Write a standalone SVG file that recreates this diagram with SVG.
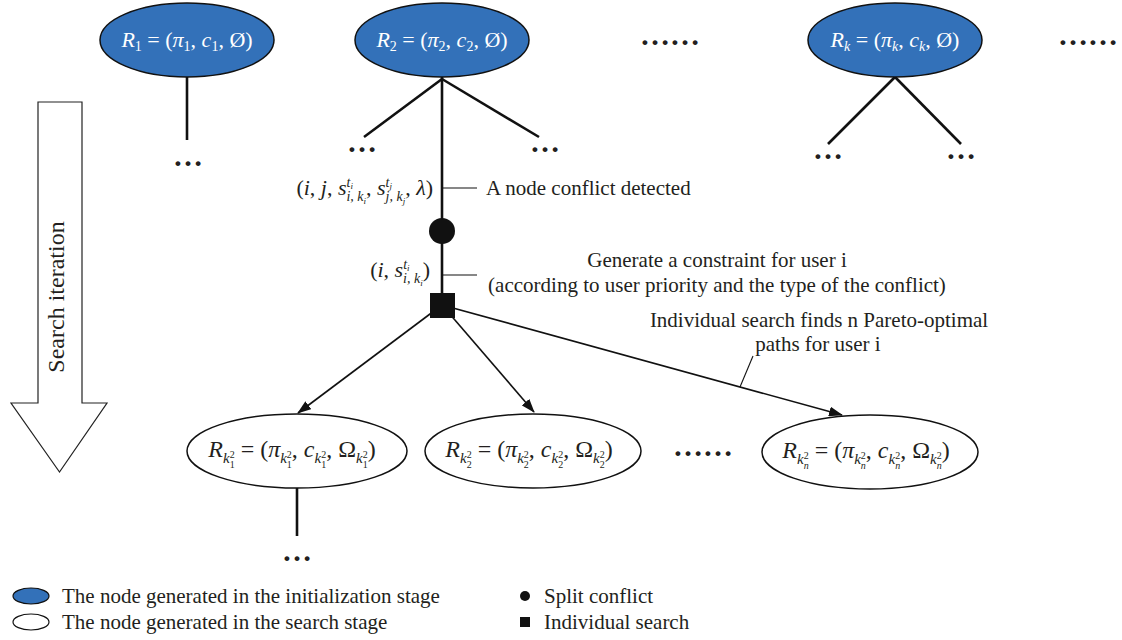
<svg xmlns="http://www.w3.org/2000/svg" width="1122" height="640" viewBox="0 0 1122 640">
  <style>
    text { font-family: "Liberation Serif", "Times New Roman", serif; fill: #231f20; }
    .lbl { font-size: 21px; }
    .math { font-size: 22px; }
    .it { font-style: italic; }
    .init { fill: #3371b9; stroke: #111; stroke-width: 1.5; }
    .srch { fill: #fff; stroke: #111; stroke-width: 1.5; }
    .init-t { font-size: 22px; fill: #fff; }
    .srch-t { font-size: 24px; }
    .trunk { stroke: #111; stroke-width: 2.6; fill: none; }
    .edge { stroke: #111; stroke-width: 1.6; fill: none; }
    .tick { stroke: #111; stroke-width: 1.1; fill: none; }
    .dots { font-size: 30px; font-weight: bold; }
    .more { font-size: 30px; font-weight: bold; }
  </style>
  <defs>
    <marker id="arrow" markerUnits="userSpaceOnUse" markerWidth="14" markerHeight="10" refX="13" refY="5" orient="auto">
      <path d="M0,0 L14,5 L0,10 Z" fill="#111"/>
    </marker>
  </defs>

  <rect width="1122" height="640" fill="#fff"/>

  <!-- search iteration arrow -->
  <g id="search-iteration">
    <polygon points="38,102 82,102 82,403 107,403 59.5,472 11,403 38,403" fill="#fff" stroke="#222" stroke-width="1.2"/>
    <text transform="translate(64,297) rotate(-90)" text-anchor="middle" style="font-size:24px">Search iteration</text>
  </g>

  <!-- connectors -->
  <g id="connectors">
    <line class="trunk" x1="187" y1="77" x2="187" y2="140"/>
    <line class="trunk" x1="442" y1="77" x2="442" y2="300"/>
    <line class="trunk" x1="442" y1="79" x2="364" y2="137"/>
    <line class="trunk" x1="442" y1="79" x2="539" y2="137"/>
    <line class="trunk" x1="895" y1="77" x2="828" y2="144"/>
    <line class="trunk" x1="895" y1="77" x2="961" y2="144"/>
    <line class="trunk" x1="297" y1="488" x2="297" y2="536"/>
    <line class="edge" x1="442" y1="305" x2="298" y2="413" marker-end="url(#arrow)"/>
    <line class="edge" x1="442" y1="305" x2="534" y2="412" marker-end="url(#arrow)"/>
    <line class="edge" x1="442" y1="305" x2="842" y2="415" marker-end="url(#arrow)"/>
    <line class="tick" x1="442" y1="188" x2="477" y2="188"/>
    <line class="tick" x1="442" y1="275" x2="477" y2="275"/>
    <line class="tick" x1="753" y1="356" x2="740" y2="387"/>
  </g>

  <!-- initialization-stage nodes -->
  <g id="node-r1">
    <ellipse class="init" cx="187" cy="40" rx="87" ry="37"/>
    <text class="init-t" x="187" y="47" text-anchor="middle"><tspan class="it">R</tspan><tspan font-size="14" dy="4">1</tspan><tspan dy="-4"> = (</tspan><tspan class="it">π</tspan><tspan font-size="14" dy="4">1</tspan><tspan dy="-4">, </tspan><tspan class="it">c</tspan><tspan font-size="14" dy="4">1</tspan><tspan dy="-4">, Ø)</tspan></text>
  </g>
  <g id="node-r2">
    <ellipse class="init" cx="442" cy="40" rx="87" ry="37"/>
    <text class="init-t" x="442" y="47" text-anchor="middle"><tspan class="it">R</tspan><tspan font-size="14" dy="4">2</tspan><tspan dy="-4"> = (</tspan><tspan class="it">π</tspan><tspan font-size="14" dy="4">2</tspan><tspan dy="-4">, </tspan><tspan class="it">c</tspan><tspan font-size="14" dy="4">2</tspan><tspan dy="-4">, Ø)</tspan></text>
  </g>
  <g id="node-rk">
    <ellipse class="init" cx="895" cy="40" rx="87" ry="37"/>
    <text class="init-t" x="895" y="47" text-anchor="middle"><tspan class="it">R</tspan><tspan class="it" font-size="14" dy="4">k</tspan><tspan dy="-4"> = (</tspan><tspan class="it">π</tspan><tspan class="it" font-size="14" dy="4">k</tspan><tspan dy="-4">, </tspan><tspan class="it">c</tspan><tspan class="it" font-size="14" dy="4">k</tspan><tspan dy="-4">, Ø)</tspan></text>
  </g>

  <!-- continuation marks -->
  <g id="ellipsis">
    <text class="more" x="670" y="45" text-anchor="middle">……</text>
    <text class="more" x="1088" y="45" text-anchor="middle">……</text>
    <text class="more" x="703" y="456" text-anchor="middle">……</text>
    <text class="dots" x="188" y="166" text-anchor="middle">…</text>
    <text class="dots" x="362" y="152" text-anchor="middle">…</text>
    <text class="dots" x="545" y="152" text-anchor="middle">…</text>
    <text class="dots" x="828" y="159" text-anchor="middle">…</text>
    <text class="dots" x="961" y="159" text-anchor="middle">…</text>
    <text class="dots" x="297" y="561" text-anchor="middle">…</text>
  </g>

  <!-- split conflict and individual search steps -->
  <g id="split-conflict">
    <circle cx="442" cy="231" r="13" fill="#111"/>
  </g>
  <g id="individual-search">
    <rect x="430" y="293" width="25" height="25" fill="#111"/>
  </g>

  <!-- annotations -->
  <g id="labels">
    <text class="math" x="433" y="195" text-anchor="end">(<tspan class="it">i</tspan>, <tspan class="it">j</tspan>, <tspan class="it">s</tspan><tspan class="it" font-size="14" dy="-8">t</tspan><tspan class="it" font-size="9" dy="2">i</tspan><tspan class="it" font-size="14" dx="-6.5" dy="12">i, k</tspan><tspan class="it" font-size="9" dy="3">i</tspan><tspan dy="-9">, </tspan><tspan class="it">s</tspan><tspan class="it" font-size="14" dy="-8">t</tspan><tspan class="it" font-size="9" dy="2">j</tspan><tspan class="it" font-size="14" dx="-6.5" dy="12">j, k</tspan><tspan class="it" font-size="9" dy="3">j</tspan><tspan dy="-9">, </tspan><tspan class="it">λ</tspan>)</text>
    <text class="lbl" x="486" y="195">A node conflict detected</text>
    <text class="math" x="430" y="277" text-anchor="end">(<tspan class="it">i</tspan>, <tspan class="it">s</tspan><tspan class="it" font-size="14" dy="-8">t</tspan><tspan class="it" font-size="9" dy="2">i</tspan><tspan class="it" font-size="14" dx="-6.5" dy="12">i, k</tspan><tspan class="it" font-size="9" dy="3">i</tspan><tspan dy="-9">)</tspan></text>
    <text class="lbl" x="717" y="267" text-anchor="middle">Generate a constraint for user i</text>
    <text class="lbl" x="717" y="292" text-anchor="middle">(according to user priority and the type of the conflict)</text>
    <text class="lbl" x="819" y="327" text-anchor="middle">Individual search finds n Pareto-optimal</text>
    <text class="lbl" x="818" y="351" text-anchor="middle">paths for user i</text>
  </g>

  <!-- search-stage nodes -->
  <g id="node-rk1">
    <ellipse class="srch" cx="297" cy="451" rx="110" ry="37"/>
    <text class="srch-t" x="292" y="457" text-anchor="middle"><tspan class="it">R</tspan><tspan class="it" font-size="15" dy="6">k</tspan><tspan font-size="10" dy="-5">2</tspan><tspan font-size="10" dx="-5" dy="10">1</tspan><tspan dy="-11"> = (</tspan><tspan class="it">π</tspan><tspan class="it" font-size="15" dy="6">k</tspan><tspan font-size="10" dy="-5">2</tspan><tspan font-size="10" dx="-5" dy="10">1</tspan><tspan dy="-11">, </tspan><tspan class="it">c</tspan><tspan class="it" font-size="15" dy="6">k</tspan><tspan font-size="10" dy="-5">2</tspan><tspan font-size="10" dx="-5" dy="10">1</tspan><tspan dy="-11">, Ω</tspan><tspan class="it" font-size="15" dy="6">k</tspan><tspan font-size="10" dy="-5">2</tspan><tspan font-size="10" dx="-5" dy="10">1</tspan><tspan dy="-11">)</tspan></text>
  </g>
  <g id="node-rk2">
    <ellipse class="srch" cx="533" cy="451" rx="108" ry="37"/>
    <text class="srch-t" x="529" y="457" text-anchor="middle"><tspan class="it">R</tspan><tspan class="it" font-size="15" dy="6">k</tspan><tspan font-size="10" dy="-5">2</tspan><tspan font-size="10" dx="-5" dy="10">2</tspan><tspan dy="-11"> = (</tspan><tspan class="it">π</tspan><tspan class="it" font-size="15" dy="6">k</tspan><tspan font-size="10" dy="-5">2</tspan><tspan font-size="10" dx="-5" dy="10">2</tspan><tspan dy="-11">, </tspan><tspan class="it">c</tspan><tspan class="it" font-size="15" dy="6">k</tspan><tspan font-size="10" dy="-5">2</tspan><tspan font-size="10" dx="-5" dy="10">2</tspan><tspan dy="-11">, Ω</tspan><tspan class="it" font-size="15" dy="6">k</tspan><tspan font-size="10" dy="-5">2</tspan><tspan font-size="10" dx="-5" dy="10">2</tspan><tspan dy="-11">)</tspan></text>
  </g>
  <g id="node-rkn">
    <ellipse class="srch" cx="870" cy="452" rx="108" ry="37"/>
    <text class="srch-t" x="866" y="458" text-anchor="middle"><tspan class="it">R</tspan><tspan class="it" font-size="15" dy="6">k</tspan><tspan font-size="10" dy="-5">2</tspan><tspan class="it" font-size="10" dx="-5" dy="10">n</tspan><tspan dy="-11"> = (</tspan><tspan class="it">π</tspan><tspan class="it" font-size="15" dy="6">k</tspan><tspan font-size="10" dy="-5">2</tspan><tspan class="it" font-size="10" dx="-5" dy="10">n</tspan><tspan dy="-11">, </tspan><tspan class="it">c</tspan><tspan class="it" font-size="15" dy="6">k</tspan><tspan font-size="10" dy="-5">2</tspan><tspan class="it" font-size="10" dx="-5" dy="10">n</tspan><tspan dy="-11">, Ω</tspan><tspan class="it" font-size="15" dy="6">k</tspan><tspan font-size="10" dy="-5">2</tspan><tspan class="it" font-size="10" dx="-5" dy="10">n</tspan><tspan dy="-11">)</tspan></text>
  </g>

  <!-- legend -->
  <g id="legend">
    <ellipse cx="31" cy="596" rx="18" ry="8" fill="#3371b9" stroke="#111" stroke-width="1.2"/>
    <text class="lbl" x="62" y="603">The node generated in the initialization stage</text>
    <ellipse cx="31" cy="622" rx="18" ry="8" fill="#fff" stroke="#111" stroke-width="1.2"/>
    <text class="lbl" x="62" y="629">The node generated in the search stage</text>
    <circle cx="525" cy="596" r="5" fill="#111"/>
    <text class="lbl" x="544" y="603">Split conflict</text>
    <rect x="520" y="617" width="10" height="10" fill="#111"/>
    <text class="lbl" x="544" y="629">Individual search</text>
  </g>
</svg>
